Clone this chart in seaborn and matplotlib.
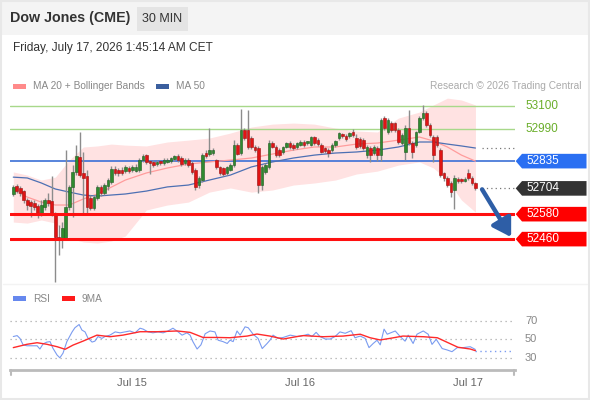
import matplotlib.pyplot as plt
import matplotlib.patches as mpatches
from matplotlib.transforms import blended_transform_factory
import numpy as np
import pandas as pd
import seaborn as sns

# 30 min candles, Dow Jones (CME)
opens = [52677, 52715, 52706, 52691, 52648, 52638, 52633, 52619, 52585, 52614,
         52648, 52643, 52581, 52470, 52465, 52465, 52614, 52710, 52783, 52855,
         52778, 52763, 52657, 52609, 52657, 52710, 52682, 52715, 52734, 52797,
         52792, 52792, 52787, 52802, 52792, 52787, 52792, 52840, 52864, 52831,
         52831, 52821, 52831, 52826, 52831, 52835, 52845, 52859, 52850, 52826,
         52840, 52826, 52792, 52720, 52744, 52874, 52869, 52874, 52840, 52807,
         52802, 52778, 52792, 52816, 52912, 52874, 52985, 52985, 52946, 52903,
         52898, 52720, 52783, 52807, 52922, 52903, 52888, 52879, 52903, 52922,
         52912, 52903, 52912, 52927, 52922, 52912, 52951, 52936, 52912, 52898,
         52888, 52888, 52912, 52946, 52965, 52956, 52956, 52975, 52946, 52941,
         52936, 52864, 52898, 52874, 52898, 52864, 53042, 52975, 53018, 53018,
         52985, 52922, 52879, 52994, 52922, 52912, 52975, 53042, 53066, 53009,
         52951, 52951, 52888, 52778, 52754, 52730, 52696, 52749, 52744, 52739,
         52778, 52754, 52730]
highs = [52720, 52725, 52715, 52696, 52657, 52648, 52648, 52629, 52648, 52657,
         52682, 52763, 52590, 52528, 52542, 52888, 52720, 52816, 52912, 52975,
         52879, 52792, 52672, 52672, 52720, 52720, 52730, 52754, 52811, 52811,
         52802, 52807, 52816, 52811, 52816, 52821, 52850, 52869, 52869, 52840,
         52840, 52840, 52840, 52850, 52850, 52855, 52864, 52869, 52859, 52850,
         52850, 52835, 52802, 52763, 52874, 52888, 52994, 52898, 52845, 52811,
         52807, 52811, 52826, 52936, 52922, 53085, 52994, 53081, 52956, 52912,
         52908, 52816, 52826, 52936, 52932, 52912, 52898, 52908, 52927, 52932,
         52922, 52927, 52936, 52936, 52932, 52956, 52956, 52946, 52922, 52903,
         52898, 52922, 52936, 52975, 52970, 52965, 52975, 52989, 52965, 52951,
         52946, 52912, 52908, 52912, 52908, 53042, 53052, 53042, 53028, 53023,
         52994, 52970, 53009, 53081, 52932, 52980, 53052, 53105, 53076, 53018,
         52961, 52961, 52898, 52783, 52763, 52739, 52768, 52758, 52754, 52758,
         52797, 52763, 52734]
lows = [52667, 52682, 52667, 52633, 52600, 52566, 52600, 52561, 52571, 52600,
        52619, 52571, 52253, 52383, 52417, 52455, 52600, 52566, 52768, 52758,
        52585, 52585, 52600, 52600, 52648, 52667, 52672, 52696, 52725, 52768,
        52763, 52768, 52778, 52778, 52783, 52783, 52783, 52831, 52821, 52773,
        52807, 52811, 52816, 52816, 52826, 52826, 52835, 52831, 52811, 52816,
        52807, 52773, 52696, 52706, 52734, 52850, 52859, 52864, 52797, 52768,
        52763, 52768, 52787, 52807, 52864, 52864, 52936, 52893, 52893, 52879,
        52682, 52696, 52773, 52797, 52898, 52855, 52855, 52869, 52898, 52893,
        52888, 52893, 52908, 52903, 52912, 52908, 52912, 52908, 52874, 52874,
        52855, 52879, 52903, 52936, 52946, 52932, 52946, 52951, 52893, 52898,
        52888, 52850, 52831, 52864, 52835, 52835, 52985, 52965, 52975, 52975,
        52917, 52912, 52840, 52912, 52850, 52903, 52970, 53033, 52999, 52951,
        52831, 52903, 52758, 52739, 52710, 52662, 52605, 52730, 52730, 52734,
        52744, 52720, 52696]
closes = [52710, 52691, 52682, 52648, 52624, 52619, 52614, 52585, 52624, 52648,
          52633, 52585, 52470, 52455, 52513, 52614, 52710, 52783, 52859, 52768,
          52754, 52614, 52609, 52662, 52710, 52682, 52720, 52744, 52797, 52778,
          52778, 52778, 52807, 52787, 52807, 52807, 52840, 52859, 52831, 52826,
          52816, 52831, 52826, 52840, 52840, 52850, 52859, 52840, 52821, 52840,
          52816, 52783, 52710, 52754, 52864, 52859, 52888, 52888, 52807, 52778,
          52773, 52807, 52816, 52912, 52869, 52985, 52946, 52903, 52903, 52888,
          52720, 52807, 52816, 52922, 52903, 52864, 52864, 52903, 52922, 52903,
          52898, 52922, 52927, 52912, 52927, 52951, 52922, 52917, 52879, 52884,
          52874, 52912, 52932, 52970, 52956, 52941, 52970, 52961, 52903, 52908,
          52898, 52903, 52864, 52903, 52864, 53033, 52994, 53033, 52985, 52985,
          52927, 52961, 52994, 52922, 52879, 52975, 53042, 53066, 53009, 52961,
          52864, 52912, 52768, 52754, 52720, 52686, 52754, 52739, 52739, 52749,
          52754, 52730, 52704]

# indicator curves (candle index -> price)
band_idx = [0, 4, 8, 12, 16, 20, 24, 28, 32, 38, 44, 50, 56, 62, 68, 74, 80,
            86, 92, 98, 104, 110, 116, 120, 124, 128, 132]
ma20 = [52696, 52662, 52638, 52624, 52624, 52653, 52677, 52710, 52744, 52778,
        52802, 52821, 52831, 52840, 52850, 52869, 52888, 52903, 52903, 52917,
        52922, 52936, 52951, 52932, 52903, 52864, 52835]
ma50 = [52758, 52754, 52730, 52701, 52686, 52672, 52667, 52672, 52677, 52691,
        52711, 52720, 52744, 52768, 52807, 52831, 52850, 52864, 52874, 52879,
        52888, 52903, 52927, 52927, 52917, 52908, 52898]
bb_upper = [52783, 52768, 52744, 52758, 52840, 52903, 52908, 52917, 52912, 52908,
            52927, 52936, 52946, 52970, 52999, 53013, 53018, 53013, 52994, 52980,
            52975, 53042, 53071, 53105, 53138, 53129, 53105]
bb_lower = [52542, 52537, 52552, 52537, 52465, 52446, 52441, 52451, 52475, 52600,
            52624, 52638, 52686, 52706, 52686, 52696, 52720, 52730, 52744, 52773,
            52787, 52816, 52831, 52802, 52744, 52648, 52590]

rsi_idx = [0, 1.1, 1.9, 2.8, 3.9, 5.6, 6.8, 7.6, 8.5, 9.6, 10.5, 11.3, 12.5, 13.3,
           14.2, 15.3, 16.8, 17.6, 18.8, 19.6, 20.5, 21.3, 22.5, 23.3, 24.2, 25.3,
           26.2, 27.6, 29.1, 30.5, 31.9, 33.3, 34.8, 36.2, 37.1, 38.5, 39.9, 41.3,
           42.8, 44.2, 45.6, 47.1, 48.2, 49.6, 50.5, 51.3, 52.5, 53.6, 54.8, 56.2,
           57.6, 58.5, 59.9, 61.1, 61.9, 62.8, 63.9, 64.8, 66.2, 67.1, 68.5, 69.9,
           71.1, 72.5, 73.3, 74.2, 75.6, 77.1, 79.1, 81.1, 82.8, 84.2, 85.3, 86.5,
           87.6, 89.1, 90.5, 91.9, 93.3, 94.8, 96.5, 97.6, 99.1, 100.5, 101.6, 102.8,
           103.9, 104.8, 105.9, 106.8, 109.1, 110.5, 111.9, 112.8, 114.2, 115.3,
           117.1, 118.5, 119.6, 120.8, 122.5, 123.9, 125.3, 126.8, 128.5, 130.5,
           131.9, 132]
rsi = [53, 54, 51, 44, 43, 43, 43, 39.5, 45, 47, 47.5, 40.5, 33, 30, 35, 47.5, 58,
       62.5, 66, 60, 58, 51.5, 47, 48, 53, 51, 53, 54.5, 58, 57, 58, 59, 57, 62, 61,
       58, 57, 58, 57, 59, 62, 58, 54.5, 57, 54.5, 47.5, 39.5, 44, 56, 59, 58, 49,
       47.5, 45.5, 49, 47.5, 59, 54.5, 63.5, 62.5, 55.5, 51, 40, 45.5, 49, 54.5, 51,
       52, 54.5, 53, 54, 55.5, 53, 57.5, 53, 50.3, 50.3, 53, 58, 56.5, 59.3, 51.7,
       53.5, 51, 41, 45.5, 49, 44, 61, 55.5, 59, 53, 48, 54.5, 45.5, 55.5, 59, 55.5,
       44.5, 50, 40, 38.5, 36.6, 41, 41, 42, 39.2, 37.7]
rsi_ma_idx = [0, 3.9, 6.8, 9.6, 12.5, 14.8, 17.1, 19.9, 23.9, 27.6, 31.3, 36.2,
              41.1, 46.8, 50.5, 54.2, 58.2, 61.9, 66.8, 69.6, 73.3, 77.1, 81.1,
              82.8, 88.5, 94.2, 99.1, 101.9, 104.8, 107.6, 111.3, 117.1, 121.1,
              123.9, 127, 130.5, 132]
rsi_ma = [41, 44.6, 46.3, 44.6, 42, 39.2, 43.8, 48, 54.5, 52.8, 54.5, 58.2, 58.2,
          59, 57.5, 52, 52, 51.7, 53.5, 55.7, 53.5, 50.3, 53, 54, 52.8, 53.5, 55.5,
          51.7, 49.3, 51, 53.5, 52.8, 51.7, 46.8, 41.4, 39.5, 37.7]

resistances = [53100, 52990]
pivot = 52835
supports = [52580, 52460]
rsi_levels = [70, 50, 30]

W, H = 590, 400
sns.set_theme(style="white")
plt.rcParams['font.family'] = ['Liberation Sans', 'DejaVu Sans']

fig = plt.figure(figsize=(W / 100, H / 100), dpi=100)
fig.patch.set_facecolor("white")


def fx(px):
    return px / W


def fy(py):
    return 1 - py / H


# header band
fig.patches.append(mpatches.Rectangle((0, fy(35)), 1, 35 / H, transform=fig.transFigure,
                                      facecolor="#f4f4f4", edgecolor="none", zorder=0))
fig.patches.append(mpatches.Rectangle((fx(137), fy(31)), fx(51), 24 / H, transform=fig.transFigure,
                                      facecolor="#e4e4e4", edgecolor="none", zorder=1))
fig.patches.append(mpatches.Rectangle((0.002, 0.003), 0.996, 0.994, transform=fig.transFigure,
                                      fill=False, edgecolor="#e8e8e8", lw=1.5, zorder=1))
fig.text(fx(10), fy(18), "Dow Jones (CME)", fontsize=10.3, fontweight="bold", color="#333333", va="center")
fig.text(fx(162.5), fy(19), "30 MIN", fontsize=9, color="#333333", va="center", ha="center")
fig.text(fx(13), fy(48), "Friday, July 17, 2026 1:45:14 AM CET", fontsize=8.6, color="#333333", va="center")

# legends
for x0, col, lab in [(13, "#ff8a8a", "MA 20 + Bollinger Bands"), (156, "#3b5f9e", "MA 50")]:
    fig.patches.append(mpatches.Rectangle((fx(x0), fy(88.5)), fx(13), 5 / H, transform=fig.transFigure,
                                          facecolor=col, edgecolor="none"))
    fig.text(fx(x0 + 20), fy(86), lab, fontsize=7.3, color="#888888", va="center")
fig.text(fx(581), fy(86), "Research \u00a9 2026 Trading Central", fontsize=7.3, color="#aaaaaa",
         va="center", ha="right")
for x0, col, lab in [(13, "#6688ee", "RSI"), (62, "#ff1a1a", "9MA")]:
    fig.patches.append(mpatches.Rectangle((fx(x0), fy(301)), fx(13), 5 / H, transform=fig.transFigure,
                                          facecolor=col, edgecolor="none"))
    fig.text(fx(x0 + 20), fy(298.5), lab, fontsize=7.3, color="#888888", va="center")

# separator between panels
fig.add_artist(plt.Line2D([0.005, 0.995], [fy(284), fy(284)], transform=fig.transFigure,
                          color="#f3f3f3", lw=1))

n = len(closes)
idx = np.arange(n)
times = pd.date_range(end="2026-07-17 01:00", periods=n, freq="30min")
xmin, xmax = -0.94, 143.3

# ---------------- price panel ----------------
ax = fig.add_axes([fx(10), fy(283), fx(505), 188 / H])
ymin, ymax = 52249, 53153
ax.set_xlim(xmin, xmax)
ax.set_ylim(ymin, ymax)
ax.axis("off")
upp = (ymax - ymin) / 188.0  # price units per pixel

ax.fill_between(band_idx, bb_lower, bb_upper, color="#ffe2e2", lw=0, zorder=1)
sns.lineplot(x=band_idx, y=ma20, ax=ax, color="#ff9c9c", lw=0.9, zorder=2)
sns.lineplot(x=band_idx, y=ma50, ax=ax, color="#4d70b3", lw=0.9, zorder=2)

for lv in resistances:
    ax.axhline(lv, color="#a8d88a", lw=1, zorder=1)
ax.axhline(pivot, color="#3b6fd6", lw=1.2, zorder=1)
for lv in supports:
    ax.axhline(lv, color="#ff1010", lw=2.2, zorder=5)

o = np.array(opens)
c = np.array(closes)
up = c >= o
body_lo = np.minimum(o, c)
body_h = np.maximum(np.abs(c - o), 2.2 * upp)
ax.vlines(idx, lows, highs, color="#8c8c8c", lw=1, zorder=3)
ax.bar(idx[up], body_h[up], bottom=body_lo[up], width=0.75, color="#2f8a2f",
       edgecolor="#1f5a1f", lw=0.4, zorder=4)
ax.bar(idx[~up], body_h[~up], bottom=body_lo[~up], width=0.75, color="#e01414",
       edgecolor="#9a1010", lw=0.4, zorder=4)

# dotted extensions
ax.plot([n + 0.8, xmax], [ma50[-1]] * 2, ls=(0, (1, 2.5)), color="#777777", lw=0.9, zorder=2)
ax.plot([n + 0.8, xmax], [closes[-1]] * 2, ls=(0, (1, 2.5)), color="#777777", lw=0.9, zorder=2)

# forecast arrow
ax.annotate("", xy=(n + 9.2, supports[-1] + 2 * upp), xytext=(n + 0.9, closes[-1] - 1 * upp),
            arrowprops=dict(arrowstyle="-|>,head_length=0.9,head_width=0.55", color="#2e5ea6",
                            lw=3.2, mutation_scale=12, shrinkA=0, shrinkB=0), zorder=6)

# right-hand labels
tr = blended_transform_factory(ax.transAxes, ax.transData)
for lv in resistances:
    ax.text(1.0198, lv, str(lv), transform=tr, color="#6aae2a", fontsize=8.5, va="center",
            clip_on=False)


def tag(level, col):
    hh = 7.3 * upp
    tip, sh, right = 1.0014, 1.0139, 1.1416
    poly = mpatches.Polygon([(tip, level), (sh, level + hh), (right, level + hh),
                             (right, level - hh), (sh, level - hh)], closed=True,
                            transform=tr, facecolor=col, edgecolor="none", clip_on=False, zorder=7)
    ax.add_patch(poly)
    ax.text(1.0218, level, str(level), transform=tr, color="white", fontsize=8.5, va="center",
            clip_on=False, zorder=8)


tag(pivot, "#2a6ff2")
tag(closes[-1], "#333333")
for lv in supports:
    tag(lv, "#ff0000")

# ---------------- RSI panel ----------------
rax = fig.add_axes([fx(10), fy(370), fx(505), 65 / H])
rax.set_xlim(xmin, xmax)
rax.set_ylim(16.8, 87.1)
for s in ["top", "right", "left"]:
    rax.spines[s].set_visible(False)
rax.spines["bottom"].set_color("#bbbbbb")
rax.spines["bottom"].set_linewidth(2)
rax.set_yticks([])

for lv in rsi_levels:
    rax.axhline(lv, color="#aaaaaa", ls=(0, (1, 3)), lw=0.9)
    rax.text(1.0198, lv, str(lv), transform=blended_transform_factory(rax.transAxes, rax.transData),
             color="#888888", fontsize=8, va="center", clip_on=False)

sns.lineplot(x=rsi_idx, y=rsi, ax=rax, color="#7b9cf0", lw=0.8)
sns.lineplot(x=rsi_ma_idx, y=rsi_ma, ax=rax, color="#ff2a2a", lw=1)
rax.plot([rsi_idx[-1], xmax - 0.6], [rsi[-1]] * 2, ls=(0, (1, 2.5)), color="#7b9cf0", lw=1)

# end ticks of x axis
for xe in [0.002, 0.998]:
    rax.plot([xe, xe], [0, -0.07], transform=rax.transAxes, color="#bbbbbb", lw=1.5, clip_on=False)

day_pos = [i for i, t in enumerate(times) if t.hour == 0 and t.minute == 0]
rax.set_xticks(day_pos)
rax.set_xticklabels([times[i].strftime("%b %-d") for i in day_pos], color="#666666", fontsize=8)
rax.tick_params(axis="x", length=0, pad=6)
rax.set_xlabel("")

fig.savefig("out.png", dpi=100)
